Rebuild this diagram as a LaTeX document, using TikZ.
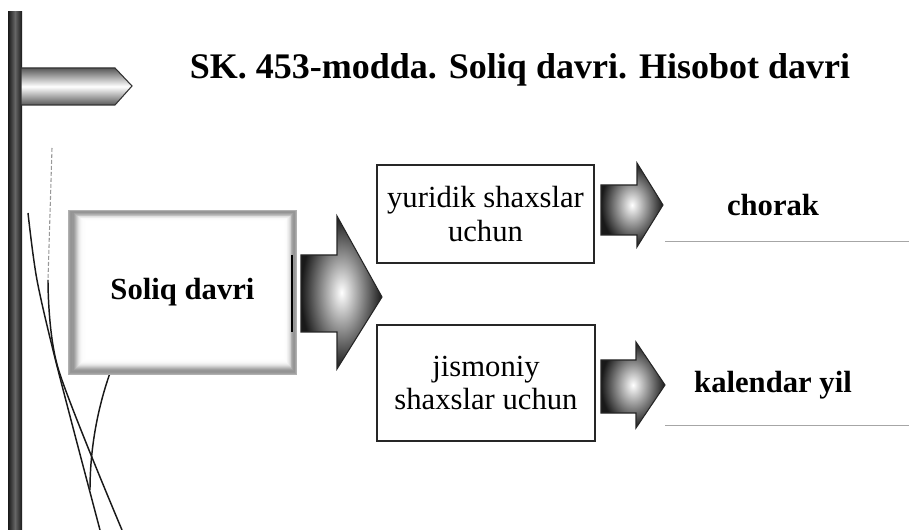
\documentclass[tikz,border=0pt]{standalone}
\usepackage{fontspec}
\setmainfont{Liberation Serif}
\begin{document}
\begin{tikzpicture}[x=0.75pt,y=-0.75pt,
  boxstyle/.style={draw=black!85,line width=0.9pt,minimum width=#1,inner sep=0pt,align=center,
     font=\fontsize{23}{25}\selectfont},
  bold/.style={font=\fontsize{23}{25}\selectfont\bfseries,inner sep=0pt},
  blockarrow/.style={inner color=white,outer color=black!90,draw=black!85,line width=0.8pt},
  leftline/.style={draw=black!90,line width=1.1pt},
  rule/.style={draw=black!35,line width=0.6pt}]
\useasboundingbox (0,0) rectangle (909,530);
% post
\shade[left color=black!90,right color=black!90,middle color=black!60] (8,12) rectangle (22,530);
% sign arrow
\shade[top color=black!65,bottom color=black!65,middle color=white,draw=black!80,line width=0.8pt]
  (21,68) -- (115,68) -- (132,86) -- (115,105) -- (21,105) -- cycle;
% title
\node[font=\fontsize{27}{30}\selectfont\bfseries,inner sep=0pt] (title) at (520,70) {SK. 453-modda. Soliq davri. Hisobot davri};
% left decorative lines
\draw[leftline] plot[smooth] coordinates {(28,213) (37,280) (57,366) (100,530)};
\draw[draw=black!40,line width=0.8pt,dash pattern=on 3pt off 1.5pt] (52,148) -- (48,280);
\draw[leftline] plot[smooth] coordinates {(48,280) (58,368) (122,530)};
\draw[leftline] (110,373) .. controls (97,410) and (90,450) .. (90,490);
% fuzzy box
\foreach \i in {0,...,16}{
  \pgfmathsetmacro\g{42*exp(-((\i-3)^2)/30)}
  \fill[black!\g] (68+1.1*\i,210+0.7*\i) rectangle (297-0.8*\i,375-1.0*\i);
}
\fill[white] (87,222) rectangle (283,358);
\node[bold,minimum width=229*0.75pt,minimum height=165*0.75pt] (soliq) at (182.5,292.5) {Soliq davri};
\draw[line width=1.9pt] (292,255) -- (292,332);
% big arrow
\shade[blockarrow] (301,255) -- (337,255) -- (337,216) -- (382,297) -- (337,369) -- (337,332) -- (301,332) -- cycle;
% boxes
\node[boxstyle=217*0.75pt,minimum height=98*0.75pt] (yur) at (485.5,214) {yuridik shaxslar\\uchun};
\node[boxstyle=218*0.75pt,minimum height=116*0.75pt] (jis) at (486,383) {jismoniy\\shaxslar uchun};
% small arrows
\shade[blockarrow] (601,185) -- (637,185) -- (637,163) -- (663,205) -- (637,247) -- (637,235) -- (601,235) -- cycle;
\shade[blockarrow] (601,360) -- (636,360) -- (636,342) -- (665,385) -- (636,428) -- (636,413) -- (601,413) -- cycle;
% results
\node[bold] (chorak) at (773,205) {chorak};
\node[bold] (kal) at (773,385) {kalendar yil};
\coordinate (r1a) at (665,241); \coordinate (r1b) at (909,241);
\coordinate (r2a) at (665,425); \coordinate (r2b) at (909,425);
\draw[rule] (r1a) -- (r1b);
\draw[rule] (r2a) -- (r2b);
\end{tikzpicture}
\end{document}
